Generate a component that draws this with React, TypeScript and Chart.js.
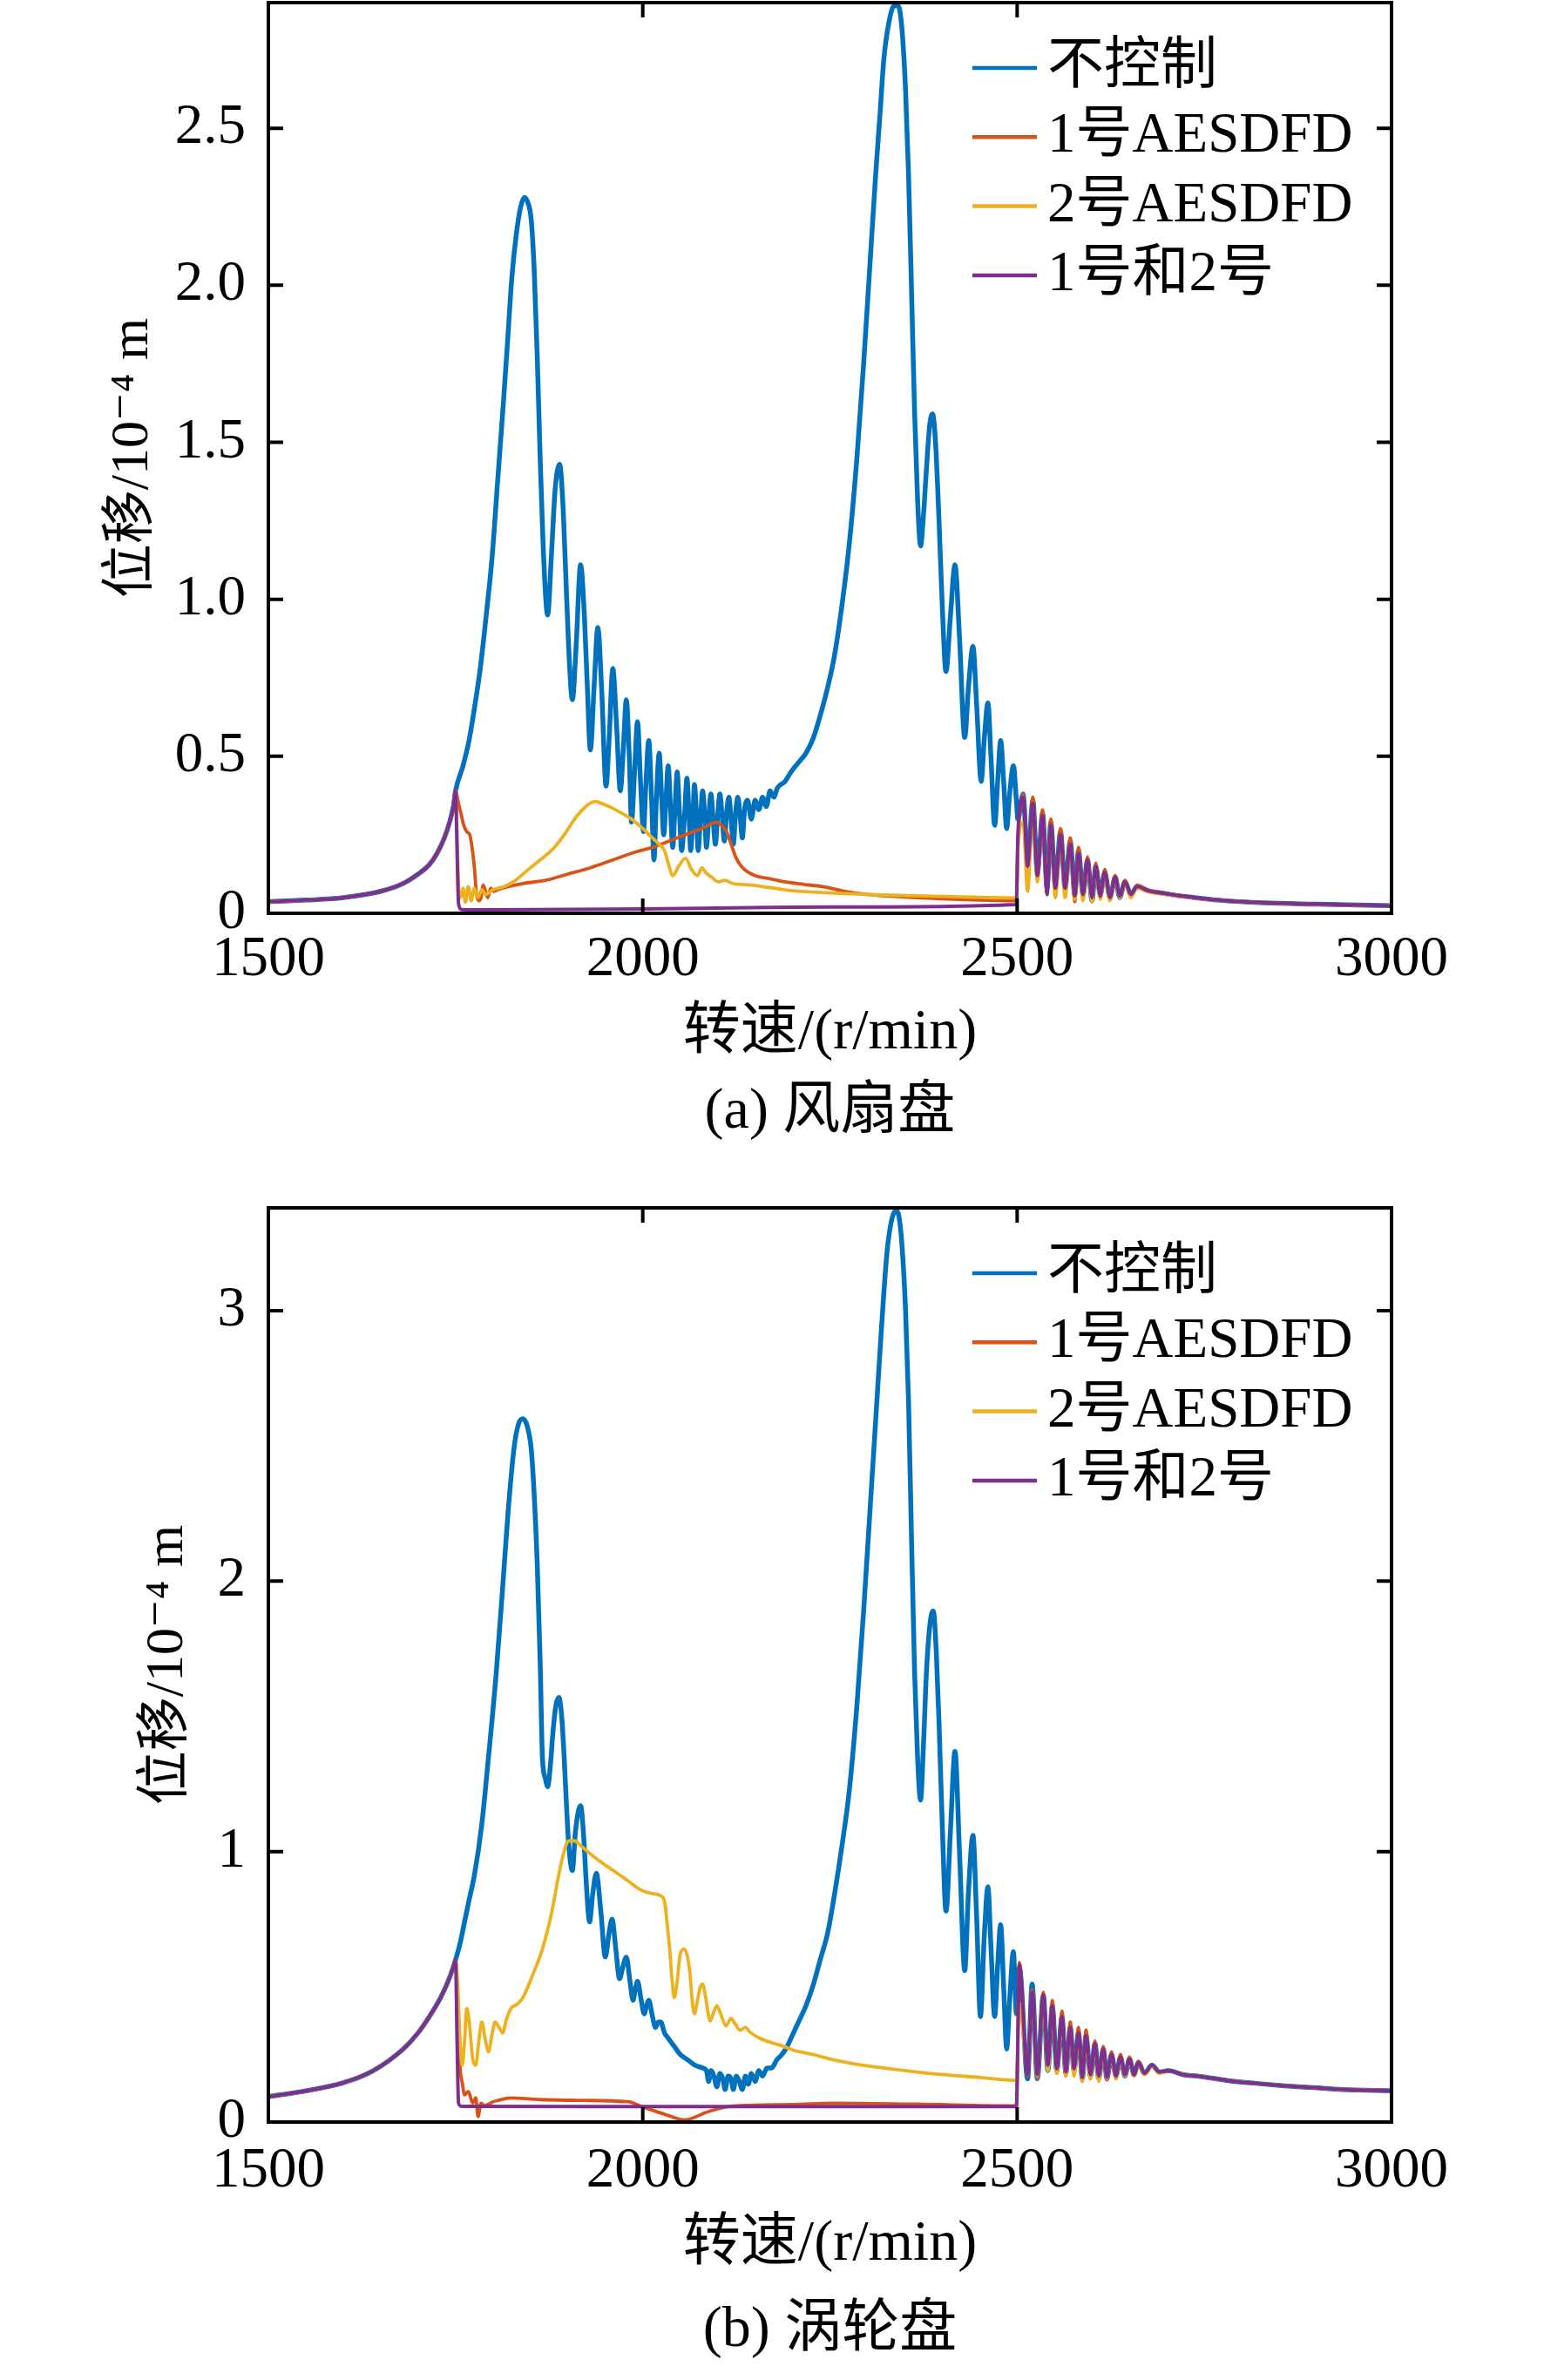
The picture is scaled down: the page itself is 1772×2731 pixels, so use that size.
import React, { useEffect, useRef } from "react";
import { Chart, registerables } from "chart.js";

Chart.register(...registerables);

const FONT = "'Liberation Serif', 'DejaVu Serif', 'Noto Sans CJK SC', serif";
const PAGE_W = 1772;
const PLOT_LEFT = 308;
const PLOT_RIGHT = 1597;

const SERIES_LABELS = ["不控制", "1号AESDFD", "2号AESDFD", "1号和2号"];
const SERIES_COLORS = ["#0072BD", "#D95319", "#EDB120", "#7E2F8E"];
const SERIES_WIDTHS = [5.5, 3.8, 3.8, 4];

const X_TITLE = "转速/(r/min)";
const Y_TITLE = "位移/10⁻⁴ m";
const X_TICKS = [1500, 2000, 2500, 3000];
const FAN_Y_TICKS = [0, 0.5, 1.0, 1.5, 2.0, 2.5];
const TURB_Y_TICKS = [0, 1, 2, 3];
const FAN_CAPTION = "(a) 风扇盘";
const TURB_CAPTION = "(b) 涡轮盘";

// ---------- (a) fan disk ----------
const fanRiseX = [1500, 1550, 1600, 1650, 1680, 1700, 1715, 1725, 1735, 1742, 1747, 1750];
const fanRiseY = [0.037, 0.042, 0.05, 0.07, 0.095, 0.125, 0.155, 0.19, 0.24, 0.29, 0.34, 0.39];

const fanBlueX = [1760,1768,1775,1783,1791,1799,1806,1814,1820,1825,1831,1837,1842,1847,1851,1855,1859,1863,1867,1873,1878,1883,1889,1893,1897,1901,1906,1911,1917,1922,1926,1930,1935,1940,1945,1951,1955,1960,1965,1970,1974,1978,1982,1985,1989,1993,1997,2001,2004,2008,2012,2015,2018,2022,2025,2028,2031,2034,2037,2040,2043,2046,2049,2052,2056,2059,2062,2064,2067,2069,2072,2074,2077,2080,2083,2085,2088,2091,2094,2097,2100,2103,2106,2109,2112,2115,2118,2121,2124,2127,2130,2133,2136,2140,2145,2150,2155,2160,2165,2170,2175,2180,2190,2198,2208,2218,2228,2237,2247,2256,2266,2276,2286,2295,2303,2311,2317,2322,2329,2336,2341,2346,2351,2355,2359,2363,2367,2371,2375,2379,2383,2387,2391,2396,2400,2405,2411,2417,2423,2430,2435,2441,2446,2452,2456,2461,2465,2470,2474,2478,2482,2486,2490,2495,2499];
const fanBlueY = [0.47,0.55,0.65,0.78,0.95,1.14,1.37,1.63,1.84,2.02,2.16,2.25,2.28,2.26,2.21,2.05,1.78,1.45,1.17,0.95,1.14,1.35,1.43,1.32,1.09,0.85,0.68,0.85,1.11,0.95,0.72,0.52,0.72,0.91,0.72,0.405,0.55,0.78,0.6,0.39,0.52,0.68,0.5,0.29,0.45,0.61,0.42,0.26,0.4,0.55,0.35,0.17,0.35,0.51,0.38,0.25,0.36,0.47,0.34,0.21,0.33,0.45,0.32,0.2,0.32,0.43,0.3,0.2,0.31,0.41,0.3,0.2,0.3,0.39,0.3,0.21,0.3,0.38,0.3,0.22,0.31,0.38,0.31,0.23,0.32,0.37,0.3,0.22,0.32,0.37,0.31,0.24,0.33,0.36,0.3,0.36,0.33,0.37,0.34,0.39,0.37,0.4,0.42,0.45,0.48,0.51,0.56,0.63,0.72,0.82,0.98,1.18,1.45,1.75,2.05,2.35,2.55,2.72,2.84,2.89,2.89,2.82,2.62,2.35,1.98,1.6,1.32,1.17,1.27,1.42,1.55,1.59,1.5,1.23,0.98,0.77,0.95,1.11,0.88,0.56,0.72,0.85,0.66,0.42,0.55,0.67,0.5,0.28,0.42,0.55,0.42,0.27,0.38,0.47,0.36];

const fanOrangeX = [1753,1757,1761,1765,1769,1772,1775,1778,1781,1784,1787,1790,1793,1797,1801,1806,1820,1840,1870,1900,1930,1960,1990,2013,2030,2046,2062,2079,2092,2098,2105,2112,2118,2124,2130,2138,2150,2170,2190,2215,2240,2270,2300,2350,2400,2450,2499];
const fanOrangeY = [0.36,0.32,0.28,0.26,0.25,0.21,0.15,0.06,0.04,0.05,0.09,0.07,0.05,0.08,0.07,0.075,0.085,0.095,0.105,0.125,0.145,0.17,0.195,0.21,0.225,0.24,0.255,0.27,0.285,0.29,0.28,0.26,0.22,0.18,0.155,0.135,0.12,0.11,0.1,0.092,0.085,0.07,0.06,0.052,0.046,0.042,0.04];

const fanYellowX = [1752,1754,1757,1760,1763,1767,1771,1775,1780,1785,1790,1800,1815,1830,1846,1863,1880,1892,1902,1912,1924,1931,1937,1945,1957,1971,1985,2000,2013,2022,2029,2034,2040,2048,2057,2065,2073,2079,2084,2092,2101,2110,2120,2145,2175,2201,2250,2311,2400,2499];
const fanYellowY = [0.25,0.09,0.05,0.08,0.035,0.085,0.04,0.08,0.05,0.075,0.06,0.075,0.085,0.105,0.137,0.17,0.205,0.24,0.275,0.31,0.34,0.352,0.356,0.35,0.338,0.32,0.3,0.27,0.24,0.22,0.2,0.16,0.12,0.15,0.175,0.14,0.12,0.145,0.13,0.115,0.1,0.105,0.095,0.09,0.08,0.072,0.065,0.059,0.054,0.049];

const fanPurpleX = [1752, 1754, 1758, 1800, 2000, 2250, 2499];
const fanPurpleY = [0.2, 0.03, 0.012, 0.011, 0.014, 0.02, 0.028];

const fanTailX = [2501,2508,2514,2521,2527,2534,2540,2545,2551,2558,2564,2571,2577,2582,2588,2594,2600,2605,2611,2617,2624,2631,2637,2644,2652,2660,2675,2691,2710,2730,2768,2830,2900,3000];
const fanTailBlue = [0.3,0.38,0.16,0.36,0.13,0.32,0.08,0.29,0.09,0.26,0.08,0.23,0.06,0.2,0.06,0.17,0.04,0.15,0.06,0.13,0.05,0.115,0.05,0.1,0.06,0.085,0.072,0.065,0.058,0.052,0.042,0.033,0.029,0.024];
const fanTailOrange = [0.22,0.38,0.14,0.37,0.11,0.33,0.07,0.3,0.07,0.27,0.07,0.24,0.037,0.21,0.05,0.18,0.045,0.16,0.05,0.14,0.05,0.12,0.05,0.105,0.055,0.09,0.074,0.066,0.059,0.052,0.043,0.034,0.029,0.024];
const fanTailYellow = [0.2,0.29,0.07,0.33,0.1,0.3,0.08,0.27,0.05,0.24,0.05,0.21,0.045,0.18,0.04,0.16,0.035,0.14,0.045,0.12,0.04,0.11,0.05,0.095,0.05,0.08,0.068,0.062,0.056,0.05,0.041,0.032,0.028,0.024];
const fanTailPurple = [0.25,0.37,0.15,0.35,0.12,0.31,0.06,0.28,0.08,0.25,0.08,0.22,0.055,0.19,0.06,0.17,0.05,0.15,0.055,0.13,0.05,0.115,0.055,0.1,0.06,0.085,0.072,0.065,0.058,0.052,0.042,0.033,0.029,0.024];

// ---------- (b) turbine disk ----------
const turbRiseX = [1500, 1550, 1600, 1640, 1680, 1700, 1715, 1730, 1740, 1746, 1750];
const turbRiseY = [0.094, 0.115, 0.145, 0.19, 0.27, 0.33, 0.39, 0.46, 0.52, 0.565, 0.6];

const turbBlueX = [1756,1762,1768,1775,1785,1794,1804,1813,1820,1828,1834,1840,1846,1851,1855,1859,1863,1866,1870,1873,1877,1880,1884,1888,1892,1895,1898,1901,1906,1910,1914,1917,1921,1924,1929,1933,1938,1944,1950,1955,1959,1964,1969,1974,1978,1983,1987,1990,1993,1998,2002,2005,2008,2013,2017,2021,2024,2029,2034,2042,2050,2060,2070,2080,2085,2088,2091,2095,2099,2103,2107,2110,2114,2118,2121,2125,2129,2133,2137,2141,2145,2150,2155,2160,2166,2172,2179,2186,2193,2198,2208,2218,2228,2237,2247,2256,2266,2276,2286,2295,2303,2311,2318,2326,2332,2338,2342,2346,2351,2355,2359,2363,2367,2371,2375,2379,2384,2388,2392,2396,2400,2405,2411,2417,2423,2430,2435,2441,2446,2451,2456,2461,2465,2470,2474,2478,2482,2486,2490,2495,2499];
const turbBlueY = [0.66,0.74,0.82,0.91,1.1,1.35,1.65,1.98,2.25,2.49,2.58,2.6,2.57,2.49,2.32,2.07,1.7,1.35,1.27,1.24,1.33,1.44,1.54,1.57,1.49,1.35,1.18,1.03,0.93,1.07,1.15,1.17,1.06,0.91,0.74,0.84,0.92,0.78,0.61,0.7,0.75,0.64,0.53,0.58,0.61,0.52,0.45,0.49,0.52,0.45,0.4,0.43,0.45,0.39,0.35,0.37,0.37,0.33,0.31,0.28,0.25,0.23,0.21,0.2,0.19,0.15,0.19,0.17,0.13,0.18,0.16,0.12,0.17,0.16,0.12,0.17,0.15,0.12,0.17,0.14,0.18,0.15,0.19,0.17,0.2,0.2,0.23,0.25,0.28,0.31,0.37,0.43,0.51,0.6,0.7,0.84,1.02,1.23,1.54,1.89,2.24,2.59,2.9,3.21,3.33,3.37,3.35,3.25,3.0,2.66,2.15,1.67,1.35,1.19,1.4,1.67,1.85,1.89,1.74,1.45,1.1,0.78,1.08,1.37,1.0,0.56,0.85,1.06,0.75,0.39,0.68,0.87,0.65,0.39,0.58,0.73,0.5,0.27,0.45,0.63,0.4];

const turbOrangeX = [1753,1756,1759,1762,1767,1773,1777,1780,1784,1789,1793,1800,1807,1823,1863,1919,1980,2000,2031,2056,2087,2120,2199,2255,2367,2499];
const turbOrangeY = [0.4,0.2,0.145,0.1,0.113,0.07,0.09,0.02,0.07,0.06,0.065,0.075,0.08,0.089,0.083,0.08,0.075,0.056,0.027,0.008,0.038,0.059,0.065,0.07,0.066,0.06];

const turbYellowX = [1753,1756,1759,1762,1765,1769,1773,1777,1781,1785,1790,1794,1799,1803,1808,1813,1818,1824,1832,1840,1851,1866,1878,1889,1897,1902,1908,1920,1935,1950,1966,1981,1996,2012,2027,2030,2033,2036,2039,2042,2046,2050,2055,2059,2063,2066,2069,2073,2077,2080,2084,2090,2094,2099,2104,2111,2118,2124,2130,2137,2143,2156,2176,2188,2202,2227,2255,2283,2339,2395,2450,2499];
const turbYellowY = [0.5,0.3,0.21,0.3,0.42,0.35,0.23,0.21,0.3,0.37,0.3,0.26,0.33,0.37,0.35,0.33,0.38,0.42,0.435,0.46,0.53,0.64,0.77,0.93,1.02,1.04,1.04,1.015,0.98,0.95,0.92,0.89,0.86,0.845,0.83,0.8,0.72,0.64,0.53,0.46,0.52,0.62,0.64,0.62,0.55,0.45,0.4,0.45,0.5,0.51,0.46,0.374,0.4,0.43,0.4,0.356,0.383,0.36,0.34,0.35,0.333,0.31,0.29,0.28,0.265,0.25,0.23,0.215,0.194,0.177,0.165,0.154];

const turbPurpleX = [1752, 1754, 1758, 2000, 2250, 2499];
const turbPurpleY = [0.3, 0.07, 0.058, 0.057, 0.057, 0.057];

const turbTailX = [2503,2514,2520,2527,2535,2541,2547,2553,2560,2565,2571,2576,2582,2587,2592,2598,2604,2609,2615,2620,2626,2632,2638,2644,2650,2656,2662,2670,2680,2690,2702,2722,2741,2780,2819,2858,2896,2935,3000];
const turbTailBlue = [0.57,0.16,0.51,0.16,0.47,0.19,0.43,0.19,0.39,0.18,0.35,0.19,0.33,0.16,0.32,0.17,0.29,0.16,0.27,0.16,0.25,0.17,0.24,0.17,0.234,0.175,0.22,0.18,0.21,0.185,0.19,0.175,0.17,0.154,0.143,0.134,0.127,0.12,0.116];
const turbTailOrange = [0.59,0.17,0.49,0.16,0.48,0.19,0.45,0.18,0.41,0.17,0.37,0.18,0.35,0.15,0.34,0.16,0.3,0.16,0.28,0.155,0.26,0.16,0.25,0.17,0.24,0.17,0.225,0.18,0.21,0.185,0.19,0.175,0.17,0.154,0.143,0.134,0.127,0.12,0.116];
const turbTailYellow = [0.44,0.19,0.45,0.17,0.44,0.19,0.41,0.18,0.37,0.17,0.33,0.17,0.31,0.15,0.3,0.16,0.28,0.15,0.26,0.16,0.24,0.16,0.23,0.17,0.225,0.17,0.215,0.175,0.205,0.18,0.19,0.175,0.17,0.154,0.143,0.134,0.127,0.12,0.116];
const turbTailPurple = [0.58,0.175,0.48,0.175,0.47,0.21,0.43,0.197,0.39,0.186,0.35,0.197,0.33,0.165,0.32,0.175,0.29,0.17,0.27,0.165,0.25,0.17,0.24,0.175,0.234,0.175,0.22,0.18,0.21,0.185,0.19,0.175,0.17,0.154,0.143,0.134,0.127,0.12,0.116];

type Pt = { x: number; y: number };
const zip = (xs: number[], ys: number[]): Pt[] => xs.map((x, i) => ({ x, y: ys[i] }));

const fanSeries: Pt[][] = [
  [...zip(fanRiseX, fanRiseY), ...zip(fanBlueX, fanBlueY), ...zip(fanTailX, fanTailBlue)],
  [...zip(fanRiseX, fanRiseY), ...zip(fanOrangeX, fanOrangeY), ...zip(fanTailX, fanTailOrange)],
  [...zip(fanRiseX, fanRiseY), ...zip(fanYellowX, fanYellowY), ...zip(fanTailX, fanTailYellow)],
  [...zip(fanRiseX, fanRiseY), ...zip(fanPurpleX, fanPurpleY), ...zip(fanTailX, fanTailPurple)],
];
const turbSeries: Pt[][] = [
  [...zip(turbRiseX, turbRiseY), ...zip(turbBlueX, turbBlueY), ...zip(turbTailX, turbTailBlue)],
  [...zip(turbRiseX, turbRiseY), ...zip(turbOrangeX, turbOrangeY), ...zip(turbTailX, turbTailOrange)],
  [...zip(turbRiseX, turbRiseY), ...zip(turbYellowX, turbYellowY), ...zip(turbTailX, turbTailYellow)],
  [...zip(turbRiseX, turbRiseY), ...zip(turbPurpleX, turbPurpleY), ...zip(turbTailX, turbTailPurple)],
];

type Panel = {
  series: Pt[][];
  yMax: number;
  yTicks: number[];
  yFmt: (v: number) => string;
  offsetTop: number;
  height: number;
  plotTop: number;
  plotBottom: number;
  xTickPad: number;
  xTitlePad: number;
  yTitlePad: number;
  caption: string;
  captionY: number;
};

const PANELS: Panel[] = [
  {
    series: fanSeries, yMax: 2.9, yTicks: FAN_Y_TICKS,
    yFmt: (v) => (v === 0 ? "0" : v.toFixed(1)),
    offsetTop: 0, height: 1365, plotTop: 3, plotBottom: 1048,
    xTickPad: 15, xTitlePad: 140, yTitlePad: 116,
    caption: FAN_CAPTION, captionY: 1272,
  },
  {
    series: turbSeries, yMax: 3.38, yTicks: TURB_Y_TICKS,
    yFmt: (v) => String(v),
    offsetTop: 1365, height: 1366, plotTop: 21, plotBottom: 1070,
    xTickPad: 18, xTitlePad: 116, yTitlePad: 156,
    caption: TURB_CAPTION, captionY: 2670,
  },
];

const framePlugin = {
  id: "innerFrame",
  afterDraw(chart: any) {
    const { ctx, chartArea: a, scales } = chart;
    const L = 17;
    ctx.save();
    ctx.strokeStyle = "#000";
    ctx.lineWidth = 4;
    ctx.strokeRect(a.left, a.top, a.right - a.left, a.bottom - a.top);
    ctx.beginPath();
    scales.x.ticks.forEach((t: any) => {
      const px = scales.x.getPixelForValue(t.value);
      ctx.moveTo(px, a.bottom); ctx.lineTo(px, a.bottom - L);
      ctx.moveTo(px, a.top); ctx.lineTo(px, a.top + L);
    });
    scales.y.ticks.forEach((t: any) => {
      const py = scales.y.getPixelForValue(t.value);
      ctx.moveTo(a.left, py); ctx.lineTo(a.left + L, py);
      ctx.moveTo(a.right, py); ctx.lineTo(a.right - L, py);
    });
    ctx.stroke();
    ctx.restore();
  },
};

const legendPlugin = {
  id: "cornerLegend",
  afterDraw(chart: any) {
    const { ctx, chartArea: a } = chart;
    ctx.save();
    chart.data.datasets.forEach((ds: any, i: number) => {
      const y = a.top + 75 + i * 79.3;
      ctx.strokeStyle = ds.borderColor;
      ctx.lineWidth = 4.5;
      ctx.beginPath();
      ctx.moveTo(a.right - 481, y);
      ctx.lineTo(a.right - 407, y);
      ctx.stroke();
      ctx.fillStyle = "#000";
      ctx.font = `65px ${FONT}`;
      ctx.textAlign = "left";
      ctx.textBaseline = "middle";
      ctx.fillText(ds.label, a.right - 395, y);
    });
    ctx.restore();
  },
};

function buildConfig(p: Panel): any {
  return {
    type: "line",
    data: {
      datasets: p.series.map((data, i) => ({
        label: SERIES_LABELS[i],
        data,
        borderColor: SERIES_COLORS[i],
        backgroundColor: SERIES_COLORS[i],
        borderWidth: SERIES_WIDTHS[i],
        pointRadius: 0,
        fill: false,
        cubicInterpolationMode: "monotone",
        borderJoinStyle: "round",
        order: 4 - i,
      })),
    },
    options: {
      responsive: false,
      animation: false,
      devicePixelRatio: 1,
      layout: { padding: { left: 0, right: PAGE_W - PLOT_RIGHT, top: p.plotTop, bottom: 0 } },
      plugins: { legend: { display: false }, tooltip: { enabled: false }, title: { display: false } },
      scales: {
        x: {
          type: "linear",
          min: 1500,
          max: 3000,
          afterBuildTicks: (s: any) => { s.ticks = X_TICKS.map((v) => ({ value: v })); },
          afterFit: (s: any) => {
            s.height = p.height - p.plotBottom;
            s.paddingLeft = 0; s.paddingRight = 0; s.paddingTop = 0; s.paddingBottom = 0;
          },
          grid: { display: false, drawTicks: false },
          border: { display: false },
          ticks: {
            padding: p.xTickPad, color: "#000", maxRotation: 0, autoSkip: false,
            font: { family: FONT, size: 65 },
            callback: (v: number) => String(v),
          },
          title: {
            display: true, text: X_TITLE, color: "#000",
            font: { family: FONT, size: 66 },
            padding: { top: 0, bottom: p.xTitlePad },
          },
        },
        y: {
          type: "linear",
          min: 0,
          max: p.yMax,
          afterBuildTicks: (s: any) => { s.ticks = p.yTicks.map((v) => ({ value: v })); },
          afterFit: (s: any) => {
            s.width = PLOT_LEFT;
            s.paddingLeft = 0; s.paddingRight = 0; s.paddingTop = 0; s.paddingBottom = 0;
          },
          grid: { display: false, drawTicks: false },
          border: { display: false },
          ticks: {
            padding: 26, color: "#000", autoSkip: false,
            font: { family: FONT, size: 65 },
            callback: (v: number) => p.yFmt(v),
          },
          title: {
            display: true, text: Y_TITLE, color: "#000",
            font: { family: FONT, size: 62 },
            padding: { top: p.yTitlePad, bottom: 0 },
          },
        },
      },
    },
    plugins: [framePlugin, legendPlugin],
  };
}

function ChartPanel({ panel }: { panel: Panel }) {
  const ref = useRef<HTMLCanvasElement>(null);
  useEffect(() => {
    if (!ref.current) return;
    const chart = new Chart(ref.current, buildConfig(panel));
    return () => chart.destroy();
  }, [panel]);
  return (
    <>
      <canvas
        ref={ref}
        width={PAGE_W}
        height={panel.height}
        style={{ position: "absolute", left: 0, top: panel.offsetTop, width: PAGE_W, height: panel.height }}
      />
      <div
        style={{
          position: "absolute",
          left: (PLOT_LEFT + PLOT_RIGHT) / 2,
          top: panel.captionY,
          transform: "translate(-50%, -50%)",
          fontFamily: FONT,
          fontSize: 66,
          lineHeight: 1,
          whiteSpace: "nowrap",
          color: "#000",
        }}
      >
        {panel.caption}
      </div>
    </>
  );
}

export default function App() {
  return (
    <div style={{ position: "absolute", left: 0, top: 0, width: PAGE_W, height: 2731, background: "#fff", overflow: "hidden" }}>
      {PANELS.map((p, i) => (
        <ChartPanel key={i} panel={p} />
      ))}
    </div>
  );
}
